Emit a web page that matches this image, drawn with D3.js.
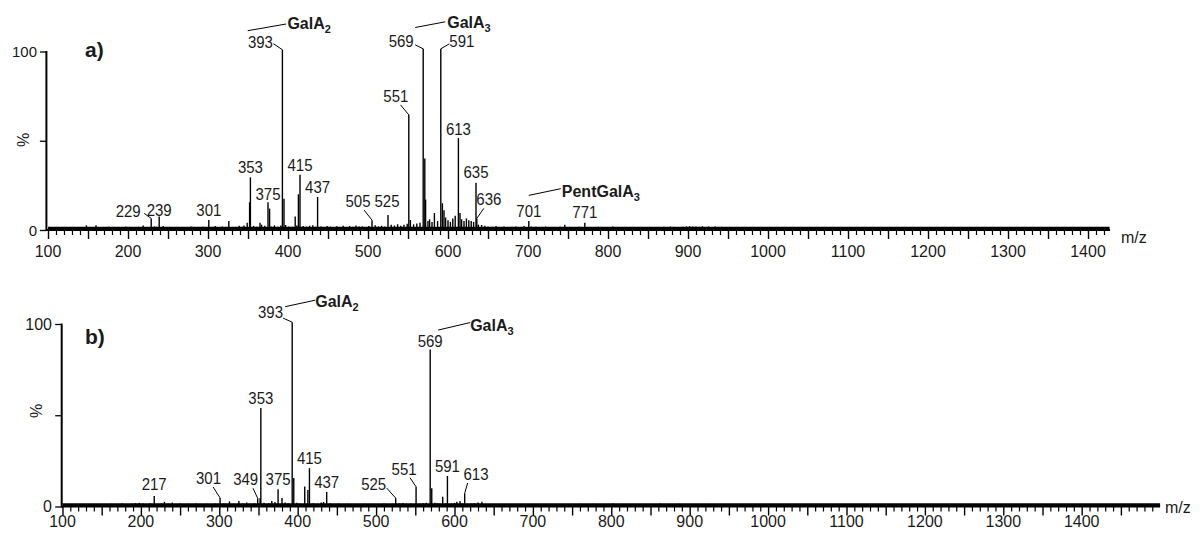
<!DOCTYPE html>
<html><head><meta charset="utf-8">
<script src="https://cdn.jsdelivr.net/npm/d3@7"></script>
<style>
body{margin:0;background:#fff}
svg{display:block}
text{font-family:"Liberation Sans",Arial,sans-serif;fill:#1a1a1a}
</style>
</head><body>
<svg id="c" width="1200" height="538"></svg>
<script>
// ---------------- DATA ----------------
// Panel a) labelled / major peaks [m/z, relative intensity %]
const peaksA = [[229,6.5],[239,7.5],[301,5.6],[352,15.5],[353,29.5],[375,15.5],[377,12],[393,101],[395,17.5],
  [413,20],[415,31],[437,18.5],[505,5.5],[525,8.4],[551,64.5],[569,101.5],[571,40],[572,17],[591,101.5],
  [593,15],[595,11],[613,51.5],[615,9.5],[635,26.5],[636,6.5],[701,5],[771,4]];
// Panel a) small background peaks [m/z, %]
const noiseA = [[110,0.8],[118,1.0],[125,0.7],[133,1.2],[140,0.9],[148,2.6],[153,1.0],[160,2.6],[165,1.1],[171,1.5],
  [176,1.8],[181,1.4],[186,1.6],[191,1.2],[197,1.9],[203,1.5],[208,1.2],[213,1.8],[219,2.5],[224,1.6],[233,2.0],
  [236,1.8],[244,2.2],[249,1.5],[254,1.3],[259,1.7],[264,1.2],[269,1.6],[274,1.4],[279,1.9],[284,1.3],[289,1.5],
  [294,1.8],[305,1.6],[309,2.2],[313,1.4],[318,1.9],[322,1.3],[326,5.0],[331,1.7],[335,1.5],[339,2.4],[343,1.8],
  [345,2.5],[349,4.0],[357,2.3],[361,1.8],[365,4.0],[367,3.0],[371,2.4],[379,2.0],[383,2.6],[387,1.8],[391,2.5],
  [397,2.8],[401,2.0],[405,1.8],[409,7.5],[411,2.5],[419,2.2],[423,1.9],[427,2.4],[431,2.6],[435,1.8],[441,2.0],
  [445,1.6],[449,2.2],[453,1.9],[457,1.4],[461,2.1],[465,1.5],[469,2.4],[473,1.7],[477,2.2],[481,1.8],[485,2.5],
  [489,1.9],[493,2.0],[497,1.6],[501,2.3],[509,2.6],[513,2.0],[517,2.4],[521,1.9],[529,3.0],[533,2.5],[537,3.2],
  [541,2.4],[545,3.0],[549,3.5],[553,5.6],[557,3.2],[561,3.6],[565,4.0],[575,5.0],[577,6.0],[580,4.5],[583,9.5],
  [587,5.0],[597,7.0],[600,5.5],[603,4.5],[606,6.5],[609,8.0],[617,6.0],[620,5.0],[623,6.5],[626,5.5],[629,5.0],
  [632,4.5],[638,3.0],[642,2.8],[646,2.4],[650,2.0],[655,1.8],[660,2.2],[665,1.6],[670,1.9],[675,1.5],[680,1.8],
  [685,2.0],[690,1.6],[695,2.2],[704,2.0],[710,1.8],[716,1.5],[722,1.9],[728,1.6],[734,1.4],[740,1.8],[746,3.0],
  [752,1.6],[758,1.5],[764,1.8],[768,1.6],[776,1.7],[782,1.4],[788,1.8],[794,1.5],[800,1.6],[806,1.9],[812,1.4],
  [818,1.7],[824,1.5],[830,1.3],[836,1.6],[842,1.4],[848,1.2],[854,1.5],[860,1.3],[866,1.4],[870,1.8],[874,1.5],
  [878,1.9],[882,1.7],[886,1.4],[890,1.2],[894,1.8],[898,2.0],[902,2.2],[906,1.9],[910,2.0],[914,1.8],[918,2.1],
  [922,1.7],[926,1.9],[930,1.6],[934,2.0],[938,1.5],[942,1.8],[946,1.4],[955,1.2],[962,1.0],[970,1.3],[978,1.1],
  [990,1.0],[1000,1.2],[1010,0.9],[1022,1.1],[1035,0.8],[1050,1.0],[1062,0.9],[1075,1.1],[1090,0.8],[1105,1.0],
  [1118,1.2],[1130,0.9],[1145,1.0],[1160,1.1],[1172,0.9],[1185,1.0],[1200,0.8],[1215,1.1],[1228,0.9],[1240,1.2],
  [1250,1.0],[1258,1.3],[1266,1.1],[1275,1.0],[1282,1.2],[1290,0.9],[1298,1.1],[1305,1.3],[1312,1.0],[1320,1.2],
  [1330,0.9],[1340,1.1],[1350,1.0],[1360,1.2],[1370,0.9],[1380,1.0],[1390,1.1],[1400,1.0],[1410,1.2],[1420,1.3]];
const labelsA = [229,239,301,353,375,393,415,437,505,525,551,569,591,613,635,636,701,771];
const namesA = [{mz:393,text:"GalA",sub:"2"},{mz:569,text:"GalA",sub:"3"},{mz:701,text:"PentGalA",sub:"3"}];

// Panel b)
const peaksB = [[217,5.7],[301,4.7],[349,4.5],[352,4.5],[353,54],[375,9.5],[380,4.7],[393,101],[395,15.6],
  [409,11],[413,9],[415,21],[437,8],[525,4.6],[551,10.8],[569,86],[571,10],[585,5.4],[591,16.7],[603,2.6],
  [607,3],[613,7.2],[635,2.6]];
const noiseB = [[105,0.6],[112,0.8],[120,0.7],[128,0.9],[135,0.8],[142,1.0],[150,1.2],[158,1.0],[163,1.5],[170,1.2],
  [176,1.6],[182,1.3],[188,1.5],[193,1.8],[198,2.0],[203,1.6],[208,1.4],[212,1.8],[222,1.5],[226,1.7],[230,2.6],
  [235,1.6],[240,2.2],[245,1.4],[250,1.6],[255,1.3],[260,1.5],[265,1.2],[270,1.6],[275,1.4],[280,1.3],[285,1.5],
  [290,1.2],[295,1.6],[306,1.6],[313,2.8],[318,1.5],[325,3.0],[330,1.6],[335,2.2],[340,1.5],[345,1.8],[357,2.0],
  [363,1.8],[367,3.0],[371,2.5],[384,2.2],[388,1.8],[399,2.0],[403,1.6],[420,1.8],[425,1.5],[430,2.2],[433,2.5],
  [441,1.8],[446,1.4],[452,1.6],[458,1.3],[463,1.5],[468,1.2],[474,1.4],[480,1.3],[486,1.5],[492,1.2],[498,1.4],
  [504,1.3],[510,1.6],[516,1.3],[521,1.5],[530,1.7],[534,1.9],[539,1.5],[544,1.6],[548,1.4],[556,1.5],[560,1.8],
  [564,2.0],[575,2.0],[578,1.8],[581,1.6],[589,1.8],[596,1.6],[600,2.0],[610,1.8],[617,1.5],[621,1.6],[625,1.9],
  [630,2.2],[640,1.4],[646,1.2],[652,1.4],[658,1.1],[664,1.3],[670,1.2],[676,1.4],[682,1.1],[688,1.3],[694,1.2],
  [700,1.4],[706,1.1],[712,1.3],[718,1.2],[724,1.4],[730,1.2],[736,1.1],[742,1.3],[748,1.2],[754,1.4],[760,1.5],
  [766,1.3],[772,1.2],[778,1.5],[784,1.4],[790,1.2],[796,1.3],[802,1.6],[808,1.4],[814,1.2],[820,1.4],[826,1.2],
  [832,1.3],[838,1.1],[844,1.3],[850,1.2],[856,1.4],[862,1.6],[868,1.4],[874,1.3],[880,1.2],[886,1.5],[892,1.3],
  [898,1.2],[904,1.4],[910,1.1],[916,1.3],[922,1.2],[928,1.4],[934,1.2],[940,1.3],[946,1.1],[952,1.2],[958,1.3],
  [964,1.1],[970,1.0],[978,1.2],[986,1.1],[994,1.0],[1002,1.1],[1012,0.9],[1022,1.0],[1032,0.8],[1042,0.9]];
const labelsB = [217,301,349,353,375,393,415,437,525,551,569,591,613];
const namesB = [{mz:393,text:"GalA",sub:"2"},{mz:569,text:"GalA",sub:"3"}];

const yTicksMajor = [0,50,100];
const yTickLabels = [0,100];
const yTicksMinor = [10,20,30,40,60,70,80,90];
const panelTags = ["a)","b)"];
const axisTitleX = "m/z";
const axisTitleY = "%";

// ---------------- LAYOUT ----------------
const layoutA = {
  xDomain:[98,1427.5], xRange:[46.4,1110], yRange:[230,51.5], tickEnd:1420,
  tagPos:[85,57], mzPos:[1121,243], pctPos:[24,140], yLabelRight:37, yLabelSize:15, xLabelBase:257, spectrumEnd:1427,
  lab:{393:{dx:-22,dy:-2,lx:-9,ly:-6},569:{dx:-22,dy:-1.5,lx:-8,ly:-4},591:{dx:21,dy:-1.5,lx:8.5,ly:-5},
       551:{dx:-13,dy:-13,lx:-8.3,ly:-10},229:{dx:-23,dy:-1.3,lx:-7,ly:-5},505:{dx:-14,dy:-13.3,lx:-7.8,ly:-10},
       525:{dx:-1,dy:-8},636:{dx:12,dy:-13,lx:7,ly:-10},239:{dy:-1},375:{dy:-2},613:{dy:-3.5},635:{dy:-4.7},771:{dy:-5}},
  nam:{393:{tx:5,ty:-20.5,l:[-34.7,-19,3.7,-25.7]},569:{tx:24,ty:-21,l:[-8,-21.3,22,-27]},
       701:{tx:33,ty:-24,l:[0,-25.7,32,-32.4]}}
};
const layoutB = {
  xDomain:[99,1500], xRange:[61.7,1160.1], yRange:[506.5,324], tickEnd:1490,
  tagPos:[85,344], mzPos:[1165,513], pctPos:[37,411], yLabelRight:52, yLabelSize:16, xLabelBase:527, spectrumEnd:1500,
  lab:{393:{dx:-21.7,dy:-4,lx:-9,ly:-4},349:{dx:-12,dy:-13,lx:-4.7,ly:-10},301:{dx:-11.6,dy:-14,lx:-7,ly:-11},
       525:{dx:-22,dy:-8,lx:-9,ly:-10},551:{dx:-12,dy:-12,lx:-6,ly:-9},613:{dx:11.3,dy:-13.4,lx:3,ly:-10.4},
       217:{dy:-6},569:{dy:-3}},
  nam:{393:{tx:23,ty:-15.5,l:[-7,-15.5,23,-22]},569:{tx:40,ty:-18.5,l:[8,-19.5,40,-27]}}
};

const svg = d3.select("#c");

function drawPanel(tag, peaks, noise, labels, names, L){
  const g = svg.append("g");
  const x = d3.scaleLinear().domain(L.xDomain).range(L.xRange);
  const y = d3.scaleLinear().domain([0,100]).range(L.yRange);
  const y0 = y(0);

  // noise sticks
  g.append("g").selectAll("line").data(noise).join("line")
    .attr("x1",d=>x(d[0])).attr("x2",d=>x(d[0]))
    .attr("y1",y0).attr("y2",d=>y(d[1]))
    .attr("stroke","#000").attr("stroke-width",1.4);
  // baseline band of the spectrum
  g.append("line").attr("x1",x(100)).attr("x2",x(L.spectrumEnd))
    .attr("y1",y0-1.6).attr("y2",y0-1.6).attr("stroke","#000").attr("stroke-width",3.2);
  // peaks
  g.append("g").selectAll("line").data(peaks).join("line")
    .attr("x1",d=>x(d[0])).attr("x2",d=>x(d[0]))
    .attr("y1",y0).attr("y2",d=>y(d[1]))
    .attr("stroke","#000").attr("stroke-width",1.4);

  // x axis: minor + major ticks
  const minor = d3.range(100, L.tickEnd+1, 10).filter(v=>v%50!==0);
  const major = d3.range(100, L.tickEnd+1, 50);
  const ax = g.append("g").attr("transform",`translate(0,${y0})`);
  ax.call(d3.axisBottom(x).tickValues(minor).tickSize(5).tickFormat(""));
  ax.selectAll(".tick line").attr("stroke-width",1.2);
  const ax2 = g.append("g").attr("transform",`translate(0,${y0})`);
  ax2.call(d3.axisBottom(x).tickValues(major).tickSize(9).tickFormat(""));
  ax2.selectAll(".tick line").attr("stroke-width",1.4);
  g.selectAll(".domain").remove();
  g.append("line").attr("x1",L.xRange[0]).attr("x2",L.xRange[1]).attr("y1",y0).attr("y2",y0)
    .attr("stroke","#000").attr("stroke-width",2);
  g.append("g").selectAll("text").data(major.filter(v=>v%100===0)).join("text")
    .attr("x",d=>x(d)).attr("y",L.xLabelBase).attr("text-anchor","middle")
    .attr("font-size",16).text(d=>d);

  // y axis
  const yx = L.xRange[0];
  const ay = g.append("g").attr("transform",`translate(${yx},0)`);
  ay.call(d3.axisLeft(y).tickValues(yTicksMinor).tickSize(3.5).tickFormat(""));
  ay.call(d3.axisLeft(y).tickValues(yTicksMajor).tickSize(6.5).tickFormat(""));
  ay.selectAll(".domain").remove();
  ay.selectAll(".tick line").attr("stroke-width",1.3);
  g.append("line").attr("x1",yx).attr("x2",yx).attr("y1",y0+1).attr("y2",y(100)-0.5)
    .attr("stroke","#000").attr("stroke-width",2);
  g.append("g").selectAll("text").data(yTickLabels).join("text")
    .attr("x",L.yLabelRight).attr("y",d=>y(d)+5.5).attr("text-anchor","end")
    .attr("font-size",L.yLabelSize).text(d=>d);

  // titles
  g.append("text").attr("x",L.mzPos[0]).attr("y",L.mzPos[1]).attr("font-size",16).text(axisTitleX);
  g.append("text").attr("transform",`translate(${L.pctPos[0]+5},${L.pctPos[1]}) rotate(-90)`)
    .attr("text-anchor","middle").attr("font-size",16).text(axisTitleY);
  g.append("text").attr("x",L.tagPos[0]).attr("y",L.tagPos[1]).attr("font-size",21)
    .attr("font-weight","bold").attr("fill","#000").text(tag);

  const inten = new Map(peaks.map(d=>[d[0],d[1]]));
  // peak labels
  labels.forEach(mz=>{
    const px = x(mz), py = y(inten.get(mz));
    const o = Object.assign({dx:0,dy:-4}, L.lab[mz]||{});
    g.append("text").attr("x",px+o.dx).attr("y",py+o.dy).attr("text-anchor","middle")
      .attr("font-size",16).attr("textLength",25).attr("lengthAdjust","spacingAndGlyphs").text(String(mz));
    if(o.lx!==undefined){
      g.append("line").attr("x1",px+o.lx).attr("y1",py+o.ly).attr("x2",px).attr("y2",py)
        .attr("stroke","#000").attr("stroke-width",1);
    }
  });
  // compound names
  names.forEach(n=>{
    const px = x(n.mz), py = y(inten.get(n.mz));
    const o = L.nam[n.mz];
    g.append("line").attr("x1",px+o.l[0]).attr("y1",py+o.l[1]).attr("x2",px+o.l[2]).attr("y2",py+o.l[3])
      .attr("stroke","#000").attr("stroke-width",1);
    const t = g.append("text").attr("x",px+o.tx).attr("y",py+o.ty).attr("font-size",16)
      .attr("font-weight","bold").attr("fill","#000");
    t.append("tspan").text(n.text);
    t.append("tspan").attr("font-size",11).attr("dy",4).text(n.sub);
  });
}

drawPanel(panelTags[0], peaksA, noiseA, labelsA, namesA, layoutA);
drawPanel(panelTags[1], peaksB, noiseB, labelsB, namesB, layoutB);
</script>
</body></html>
